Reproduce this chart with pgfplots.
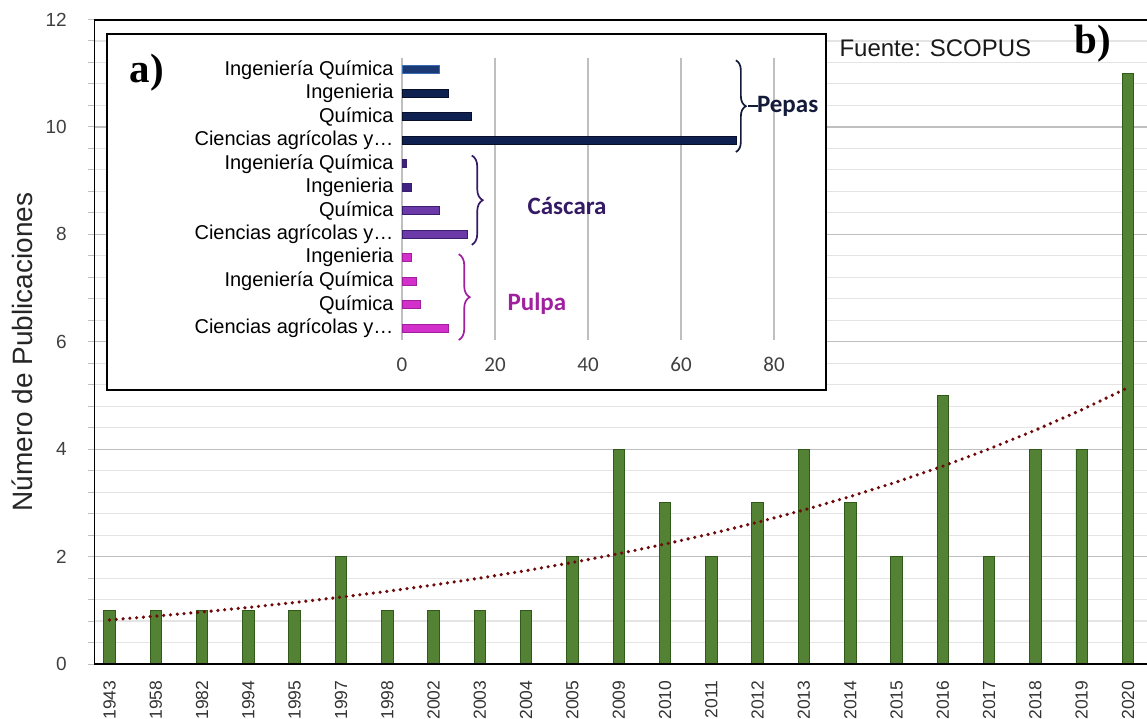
\documentclass[border=0pt]{standalone}
\usepackage{fontspec}
\setmainfont{Liberation Sans}
\newfontfamily\calibri{Carlito}
\newfontfamily\serifb{Liberation Serif}
\usepackage{pgfplots}
\pgfplotsset{compat=1.18}
\usetikzlibrary{decorations.pathreplacing}

\definecolor{barg}{HTML}{548235}
\definecolor{barge}{HTML}{2F5A1A}
\definecolor{trend}{HTML}{6E0A0A}
\definecolor{grmaj}{HTML}{BFBFBF}
\definecolor{grmin}{HTML}{E4E4E4}
\definecolor{ticktxt}{HTML}{404040}
\definecolor{pepasA}{HTML}{1B3A73}
\definecolor{pepasAe}{HTML}{3A6DB5}
\definecolor{pepas}{HTML}{0F2150}
\definecolor{pepase}{HTML}{060E2A}
\definecolor{cascA}{HTML}{3E2180}
\definecolor{casc}{HTML}{6B3AA8}
\definecolor{casce}{HTML}{3B1F6F}
\definecolor{pulpa}{HTML}{D22FCB}
\definecolor{pulpae}{HTML}{A01F9A}
\definecolor{pepastxt}{HTML}{141A3A}
\definecolor{casctxt}{HTML}{351A66}
\definecolor{pulpatxt}{HTML}{A0209F}

\begin{document}
\begin{tikzpicture}[x=1pt,y=1pt]
\path[use as bounding box] (0,0) rectangle (1147,718);

% ---------------- main chart ----------------
\begin{axis}[
  at={(94pt,54pt)}, anchor=south west,
  scale only axis, width=1053pt, height=644.5pt,
  xmin=-0.335, xmax=22.41, ymin=0, ymax=12,
  xtick={0,...,22},
  xticklabels={1943,1958,1982,1994,1995,1997,1998,2002,2003,2004,2005,2009,2010,2011,2012,2013,2014,2015,2016,2017,2018,2019,2020},
  x tick label style={rotate=90, anchor=east, font=\fontsize{17.5}{17.5}\selectfont, text=black!80, inner sep=0pt},
  xticklabel shift=10.5pt,
  x tick style={draw=none},
  ytick={0,2,...,12}, minor y tick num=4,
  ymajorgrids, yminorgrids,
  major grid style={draw=grmaj, line width=1.3pt},
  minor grid style={draw=grmin, line width=1.1pt},
  y tick style={draw=grmaj, line width=1pt},
  tick align=outside, major tick length=6pt, minor tick length=6pt,
  yticklabel style={font=\fontsize{19}{19}\selectfont, text=ticktxt, inner sep=0pt, xshift=-21pt},
  /pgf/number format/assume math mode=true,
  axis line style={draw=none},
]
\addplot[ybar, bar width=11.5pt, bar shift=0pt, fill=barg, draw=barge, line width=0.9pt]
 coordinates {(0,1) (1,1) (2,1) (3,1) (4,1) (5,2) (6,1) (7,1) (8,1) (9,1) (10,2)
 (11,4) (12,3) (13,2) (14,3) (15,4) (16,3) (17,2) (18,5) (19,2) (20,4) (21,4) (22,11)};
\addplot[trend, line width=3.6pt, line cap=round, dash pattern=on 0pt off 6.8pt]
 coordinates {(0,0.820) (1,0.891) (2,0.969) (3,1.053) (4,1.145) (5,1.245) (6,1.353)
 (7,1.471) (8,1.599) (9,1.738) (10,1.890) (11,2.054) (12,2.233) (13,2.427) (14,2.639)
 (15,2.868) (16,3.118) (17,3.389) (18,3.684) (19,4.005) (20,4.354) (21,4.733) (22,5.145)};
\draw[line width=2.6pt, line cap=rect] (rel axis cs:1.01,1) -- (rel axis cs:0,1) -- (rel axis cs:0,0) -- (rel axis cs:1.01,0);
\end{axis}

\node[rotate=90, font=\fontsize{28}{28}\selectfont, text=black!85] at (22,366) {Número de Publicaciones};
\node[anchor=west, font=\fontsize{24}{24}\selectfont, text=black!90] at (836,670) {Fuente: SCOPUS};
\node[anchor=west, font=\serifb\bfseries\fontsize{41}{41}\selectfont] at (1071,674) {b)};

% ---------------- inset ----------------
\filldraw[fill=white, draw=black, line width=2.6pt] (107,328) rectangle (826,684);
\node[anchor=west, font=\serifb\bfseries\fontsize{41}{41}\selectfont] at (126,645) {a)};

\begin{axis}[
  at={(402pt,378pt)}, anchor=south west,
  scale only axis, width=372pt, height=282pt,
  xmin=0, xmax=80, ymin=-0.5, ymax=11.5,
  xtick={0,20,...,80},
  xmajorgrids, major grid style={draw=black!25, line width=1.6pt},
  x tick style={draw=none}, y tick style={draw=none},
  xticklabel style={font=\calibri\fontsize{21}{21}\selectfont, text=ticktxt, yshift=-14pt},
  /pgf/number format/assume math mode=true,
  ytick={0,...,11},
  yticklabels={Ciencias agrícolas y…, Química, Ingeniería Química, Ingenieria,
               Ciencias agrícolas y…, Química, Ingenieria, Ingeniería Química,
               Ciencias agrícolas y…, Química, Ingenieria, Ingeniería Química},
  yticklabel style={font=\fontsize{20}{20}\selectfont, text=black, inner sep=0pt, xshift=-4pt},
  axis line style={draw=none},
  clip=false,
  xbar, bar width=8pt, bar shift=0pt,
]
\addplot[fill=pulpa, draw=pulpae, line width=0.8pt] coordinates {(10,0) (4,1) (3,2) (2,3)};
\addplot[fill=casc, draw=casce, line width=0.8pt] coordinates {(14,4) (8,5)};
\addplot[fill=cascA, draw=casce, line width=0.8pt] coordinates {(2,6) (1,7)};
\addplot[fill=pepas, draw=pepase, line width=0.8pt] coordinates {(72,8) (15,9) (10,10)};
\addplot[fill=pepasA, draw=pepasAe, line width=0.8pt] coordinates {(8,11)};

\draw[pepastxt, line width=1.7pt, decorate, decoration={brace, amplitude=10pt}] (axis cs:71.8,11.4) -- (axis cs:71.8,7.5);
\draw[pepastxt, line width=1.7pt] (axis cs:74.5,9.45) -- (axis cs:76.5,9.45);
\node[anchor=west, font=\calibri\bfseries\fontsize{25}{25}\selectfont, text=pepastxt, inner sep=0pt] at (axis cs:76.3,9.45) {Pepas};

\draw[casctxt, line width=1.7pt, decorate, decoration={brace, amplitude=11pt}] (axis cs:15,7.35) -- (axis cs:15,3.55);
\node[font=\calibri\bfseries\fontsize{25}{25}\selectfont, text=casctxt] at (axis cs:35.5,5.2) {Cáscara};

\draw[pulpatxt, line width=1.7pt, decorate, decoration={brace, amplitude=11pt}] (axis cs:12.2,3.15) -- (axis cs:12.2,-0.5);
\node[font=\calibri\bfseries\fontsize{25}{25}\selectfont, text=pulpatxt] at (axis cs:29,1.05) {Pulpa};
\end{axis}
\end{tikzpicture}
\end{document}
